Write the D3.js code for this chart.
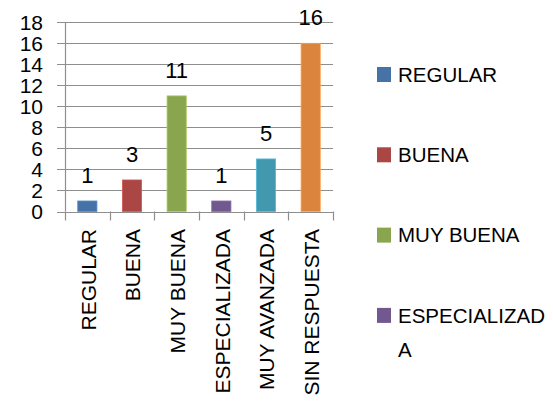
<!DOCTYPE html>
<html><head><meta charset="utf-8">
<script src="https://cdn.jsdelivr.net/npm/d3@7"></script>
<style>body{margin:0;background:#fff}svg{display:block}text{font-family:"Liberation Sans",Arial,sans-serif;fill:#000}</style>
</head><body>
<svg id="c" width="553" height="413"></svg>
<script>
const categories = ["REGULAR","BUENA","MUY BUENA","ESPECIALIZADA","MUY AVANZADA","SIN RESPUESTA"];
const values = [1,3,11,1,5,16];
const colors = ["#4572A7","#AA4643","#89A54E","#71588F","#4198AF","#DB843D"];
const yTicks = [0,2,4,6,8,10,12,14,16,18];
const legendLines = [["REGULAR"],["BUENA"],["MUY BUENA"],["ESPECIALIZAD","A"]];

const svg = d3.select("#c");
const x = d3.scaleBand().domain(categories).range([65,333]).paddingInner(0.57).paddingOuter(0.285);
const y = d3.scaleLinear().domain([0,18]).range([211.5,22.3]);
const grid = "#8e8e8e";

// gridlines + left ticks
svg.append("g").selectAll("line").data(yTicks).join("line")
  .attr("x1",57).attr("x2",333).attr("y1",d=>Math.round(y(d))+0.5).attr("y2",d=>Math.round(y(d))+0.5)
  .attr("stroke",grid).attr("stroke-width",1.2);
// y axis line
svg.append("line").attr("x1",65.5).attr("x2",65.5).attr("y1",y(18)).attr("y2",y(0)).attr("stroke",grid).attr("stroke-width",1.2);
// x ticks at band boundaries
const bounds = categories.map(c=>x(c)-x.step()*x.paddingInner()/2).concat([333]);
bounds[0]=65;
svg.append("g").selectAll("line").data(bounds).join("line")
  .attr("x1",d=>Math.round(d)+0.5).attr("x2",d=>Math.round(d)+0.5).attr("y1",y(0)).attr("y2",y(0)+9)
  .attr("stroke",grid).attr("stroke-width",1.2);

// y tick labels
svg.append("g").selectAll("text").data(yTicks).join("text")
  .attr("x",43).attr("y",d=>y(d)).attr("dy","0.36em").attr("text-anchor","end")
  .attr("font-size",21).text(d=>d);

// bars
svg.append("g").selectAll("rect").data(values).join("rect")
  .attr("x",(d,i)=>x(categories[i])).attr("width",x.bandwidth())
  .attr("y",d=>y(d)).attr("height",d=>y(0)-y(d))
  .attr("fill",(d,i)=>colors[i]).attr("stroke",(d,i)=>d3.color(colors[i]).brighter(0.6)).attr("stroke-width",0.8);

// data labels
svg.append("g").selectAll("text").data(values).join("text")
  .attr("x",(d,i)=>x(categories[i])+x.bandwidth()/2).attr("y",d=>y(d)-18)
  .attr("text-anchor","middle").attr("font-size",22).text(d=>d);

// x labels rotated
svg.append("g").selectAll("text").data(categories).join("text")
  .attr("transform",d=>`translate(${x(d)+x.bandwidth()/2+1},229) rotate(-90)`)
  .attr("dy","0.35em").attr("text-anchor","end").attr("font-size",21)
  .text(d=>d);

// legend
const lg = svg.append("g").selectAll("g").data(legendLines).join("g")
  .attr("transform",(d,i)=>`translate(377,${74.5+i*80.3})`);
lg.append("rect").attr("x",0).attr("y",-7.5).attr("width",14).attr("height",15).attr("fill",(d,i)=>colors[i]);
lg.each(function(d){
  const g=d3.select(this);
  d.forEach((t,j)=>g.append("text").attr("x",21).attr("y",j*34).attr("dy","0.35em").attr("font-size",20.5).text(t));
});
</script>
</body></html>
